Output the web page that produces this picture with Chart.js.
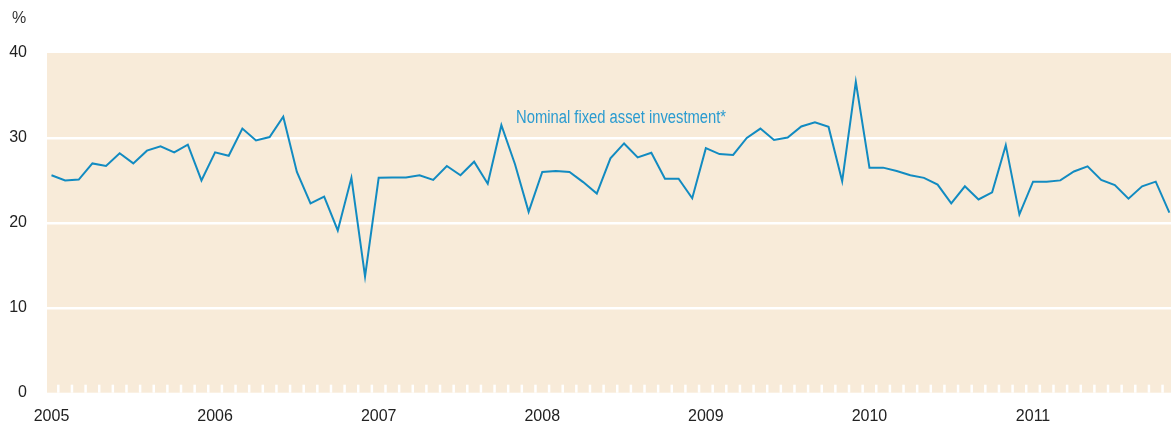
<!DOCTYPE html>
<html>
<head>
<meta charset="utf-8">
<script src="https://cdn.jsdelivr.net/npm/chart.js@4"></script>
<style>
  html, body { margin: 0; padding: 0; background: #fff; }
  #wrap { width: 1171px; height: 425px; }
</style>
</head>
<body>
<div id="wrap"><canvas id="fai" width="1171" height="425"></canvas></div>
<script>
// monthly data, Jan 2005 .. Nov 2011 (index 0 = Jan 2005)
const years = ['2005', '2006', '2007', '2008', '2009', '2010', '2011'];
const yTicks = [0, 10, 20, 30, 40];
const seriesName = 'Nominal fixed asset investment*';
const fai = [
  25.6, 25.0, 25.1, 27.0, 26.7, 28.2, 27.0, 28.5, 29.0, 28.3, 29.2, 25.0,
  28.3, 27.9, 31.1, 29.7, 30.1, 32.5, 26.0, 22.3, 23.1, 19.1, 25.3, 13.7,
  25.3, 25.35, 25.35, 25.6, 25.05, 26.7, 25.6, 27.2, 24.6, 31.5, 26.9, 21.3,
  26.0, 26.1, 26.0, 24.8, 23.45, 27.6, 29.35, 27.7, 28.25, 25.2, 25.2, 22.9,
  28.8, 28.1, 28.0, 30.0, 31.1, 29.75, 30.05, 31.35, 31.85, 31.3, 24.9, 36.6,
  26.5, 26.5, 26.1, 25.6, 25.3, 24.5, 22.3, 24.3, 22.75, 23.6, 29.15, 21.0,
  24.85, 24.85, 25.0, 26.05, 26.65, 25.05, 24.45, 22.85, 24.3, 24.85, 21.2
];

const FONT = '"Liberation Sans", Arial, sans-serif';
const BLUE = '#128bc1';

const decor = {
  id: 'decor',
  beforeDraw(chart) {
    const { ctx, chartArea: a } = chart;
    ctx.save();
    ctx.fillStyle = '#f8ebd9';
    ctx.fillRect(a.left, a.top, a.right - a.left, a.bottom - a.top);
    ctx.restore();
  },
  beforeDatasetsDraw(chart) {
    // small white month ticks along the bottom edge
    const { ctx, chartArea: a, scales: { x } } = chart;
    ctx.save();
    ctx.strokeStyle = '#ffffff';
    ctx.lineWidth = 2.5;
    for (let i = 0; i < fai.length - 1; i++) {
      const px = x.getPixelForValue(i + 0.5);
      ctx.beginPath();
      ctx.moveTo(px, a.bottom);
      ctx.lineTo(px, a.bottom - 8);
      ctx.stroke();
    }
    ctx.restore();
  },
  afterDraw(chart) {
    const { ctx, scales: { x, y } } = chart;
    ctx.save();
    ctx.font = '16px ' + FONT;
    ctx.fillStyle = '#333333';
    ctx.textBaseline = 'middle';
    ctx.fillText('%', 12, 19);
    // series label, condensed like the original typeface
    ctx.font = '18px ' + FONT;
    ctx.fillStyle = '#2a9bd0';
    ctx.textBaseline = 'alphabetic';
    ctx.translate(x.getPixelForValue(34.08), y.getPixelForValue(31.8));
    ctx.scale(0.82, 1);
    ctx.fillText(seriesName, 0, 0);
    ctx.restore();
  }
};

new Chart(document.getElementById('fai'), {
  type: 'line',
  data: {
    datasets: [{
      label: seriesName,
      data: fai.map((v, i) => ({ x: i, y: v })),
      borderColor: BLUE,
      borderWidth: 2,
      pointRadius: 0,
      tension: 0,
      fill: false
    }]
  },
  options: {
    responsive: false,
    animation: false,
    layout: { padding: { top: 53, right: 0, left: 0, bottom: 0 } },
    plugins: { legend: { display: false }, tooltip: { enabled: false } },
    scales: {
      x: {
        type: 'linear',
        min: -0.33,
        max: 82.12,
        afterBuildTicks: s => { s.ticks = years.map((_, k) => ({ value: k * 12 })); },
        afterFit: s => { s.height = 32.3; },
        grid: { display: false, drawTicks: false },
        border: { display: false },
        ticks: {
          padding: 14,
          maxRotation: 0,
          autoSkip: false,
          color: '#222222',
          font: { family: FONT, size: 16 },
          callback: v => years[v / 12]
        }
      },
      y: {
        min: 0,
        max: 40,
        afterBuildTicks: s => { s.ticks = yTicks.map(v => ({ value: v })); },
        afterFit: s => { s.width = 47; },
        grid: {
          drawTicks: false,
          lineWidth: 2.5,
          color: c => (c.tick.value > 0 && c.tick.value < 40) ? '#ffffff' : 'rgba(0,0,0,0)'
        },
        border: { display: false },
        ticks: {
          padding: 20,
          color: '#222222',
          font: { family: FONT, size: 16 }
        }
      }
    }
  },
  plugins: [decor]
});
</script>
</body>
</html>
